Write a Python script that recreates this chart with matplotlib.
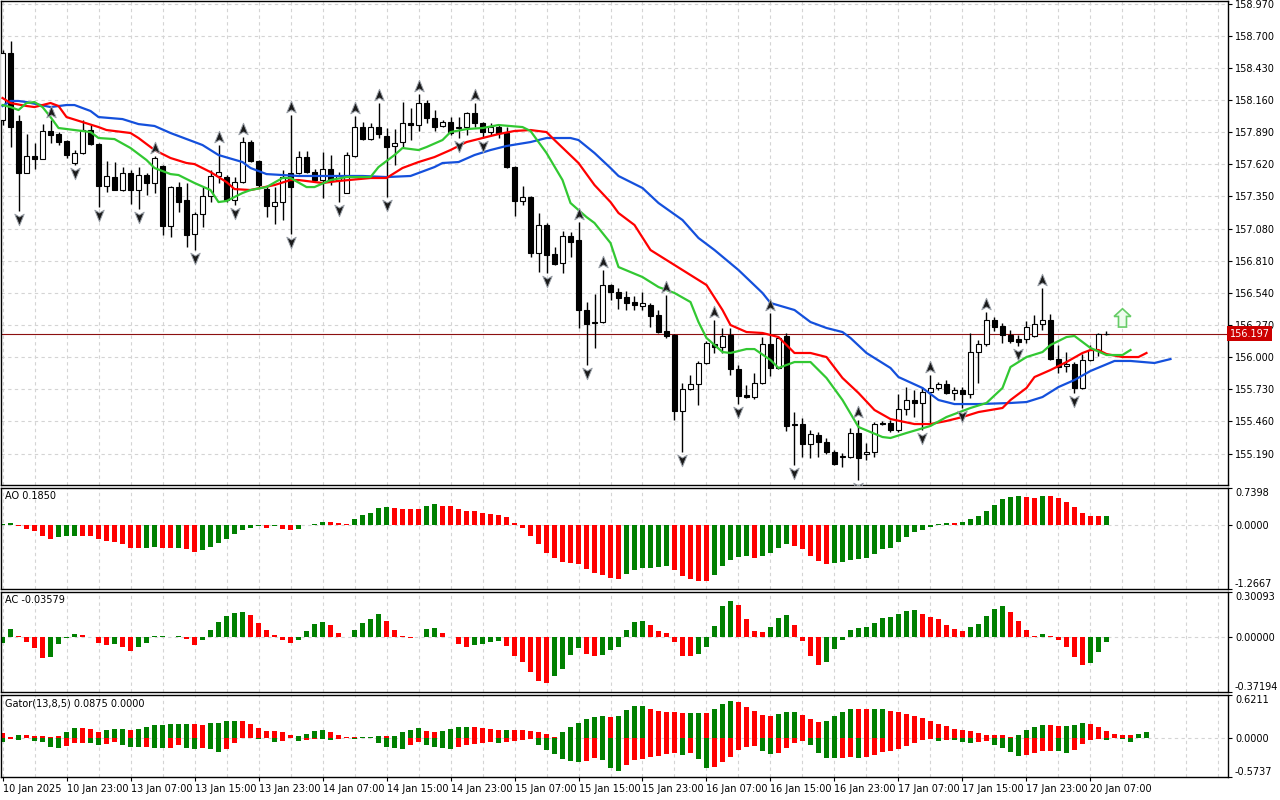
import numpy as np
import matplotlib.pyplot as plt
import matplotlib.transforms as mtransforms
from matplotlib.path import Path
from matplotlib.patches import FancyArrow

# ---- price data (hourly bars) ----
time_labels = ["10 Jan 2025", "10 Jan 23:00", "13 Jan 07:00", "13 Jan 15:00", "13 Jan 23:00",
               "14 Jan 07:00", "14 Jan 15:00", "14 Jan 23:00", "15 Jan 07:00", "15 Jan 15:00",
               "15 Jan 23:00", "16 Jan 07:00", "16 Jan 15:00", "16 Jan 23:00", "17 Jan 07:00",
               "17 Jan 15:00", "17 Jan 23:00", "20 Jan 07:00"]
price_ticks = [158.970, 158.700, 158.430, 158.160, 157.890, 157.620, 157.350, 157.080,
               156.810, 156.540, 156.270, 156.000, 155.730, 155.460, 155.190]

opens = [157.992, 158.555, 157.984, 157.547, 157.69, 157.664, 157.9, 157.874, 157.816, 157.631,
         157.715, 157.908, 157.79, 157.438, 157.513, 157.404, 157.547, 157.404, 157.53, 157.463,
         157.606, 157.102, 157.429, 157.32, 157.034, 157.202, 157.354, 157.522, 157.513, 157.32,
         157.471, 157.807, 157.648, 157.412, 157.27, 157.303, 157.547, 157.547, 157.681, 157.555,
         157.488, 157.58, 157.488, 157.379, 157.69, 157.933, 157.832, 157.933, 157.858, 157.774,
         157.807, 157.967, 157.95, 158.135, 158.009, 157.942, 157.975, 157.925, 157.933, 158.051,
         157.967, 157.891, 157.933, 157.883, 157.597, 157.312, 157.345, 156.875, 157.11, 156.866,
         156.791, 157.018, 156.984, 156.396, 156.287, 156.295, 156.606, 156.547, 156.505, 156.463,
         156.43, 156.438, 156.354, 156.22, 156.186, 155.548, 155.732, 155.774, 155.951, 156.11,
         156.085, 156.186, 155.9, 155.682, 155.665, 155.783, 156.11, 155.909, 156.178, 155.438,
         155.438, 155.27, 155.346, 155.287, 155.203, 155.161, 155.161, 155.363, 155.186, 155.203,
         155.447, 155.447, 155.388, 155.564, 155.64, 155.615, 155.707, 155.741, 155.774, 155.699,
         155.724, 155.69, 156.043, 156.11, 156.312, 156.262, 156.186, 156.152, 156.152, 156.178,
         156.278, 156.312, 155.984, 155.926, 155.942, 155.741, 155.976, 156.06, 156.194]
highs = [158.58, 158.656, 158.034, 157.874, 157.799, 157.958, 157.992, 157.891, 157.824, 157.74,
         157.992, 157.95, 157.799, 157.648, 157.639, 157.597, 157.572, 157.597, 157.547, 157.69,
         157.614, 157.438, 157.471, 157.463, 157.219, 157.429, 157.572, 157.782, 157.53, 157.513,
         157.849, 157.824, 157.656, 157.438, 157.429, 157.572, 158.034, 157.732, 157.732, 157.58,
         157.723, 157.698, 157.555, 157.723, 158.026, 157.975, 157.967, 158.135, 157.925, 157.916,
         158.143, 158.093, 158.21, 158.16, 158.076, 157.992, 158.017, 158.017, 158.059, 158.135,
         157.975, 157.967, 157.95, 157.933, 157.606, 157.438, 157.354, 157.211, 157.127, 156.925,
         157.06, 157.051, 157.135, 156.463, 156.53, 156.732, 156.614, 156.581, 156.556, 156.514,
         156.547, 156.455, 156.396, 156.522, 156.194, 155.783, 155.85, 155.968, 156.136, 156.312,
         156.245, 156.245, 155.934, 155.766, 155.867, 156.169, 156.371, 156.178, 156.203, 155.539,
         155.489, 155.388, 155.371, 155.321, 155.22, 155.195, 155.405, 155.472, 155.279, 155.455,
         155.464, 155.472, 155.69, 155.749, 155.724, 155.749, 155.85, 155.791, 155.808, 155.749,
         155.749, 156.203, 156.144, 156.379, 156.337, 156.287, 156.228, 156.186, 156.304, 156.354,
         156.581, 156.362, 156.102, 156.043, 155.959, 156.026, 156.102, 156.203, 156.22]
lows = [157.95, 157.765, 157.228, 157.547, 157.58, 157.664, 157.799, 157.782, 157.673, 157.614,
        157.706, 157.782, 157.261, 157.387, 157.404, 157.396, 157.286, 157.244, 157.362, 157.379,
        157.026, 157.009, 157.219, 156.925, 156.9, 157.093, 157.303, 157.463, 157.303, 157.278,
        157.463, 157.639, 157.429, 157.177, 157.118, 157.152, 157.034, 157.538, 157.547, 157.471,
        157.337, 157.446, 157.303, 157.379, 157.681, 157.824, 157.824, 157.841, 157.345, 157.614,
        157.757, 157.824, 157.9, 157.967, 157.9, 157.933, 157.866, 157.841, 157.866, 157.933,
        157.841, 157.866, 157.841, 157.589, 157.186, 157.278, 156.841, 156.715, 156.707, 156.774,
        156.707, 156.841, 156.245, 155.934, 156.077, 156.287, 156.48, 156.404, 156.396, 156.396,
        156.396, 156.253, 156.203, 156.161, 155.472, 155.203, 155.724, 155.598, 155.942, 156.035,
        156.035, 155.85, 155.606, 155.657, 155.648, 155.774, 155.842, 155.9, 155.38, 155.094,
        155.161, 155.153, 155.161, 155.186, 155.094, 155.077, 155.153, 154.968, 155.136, 155.161,
        155.43, 155.371, 155.371, 155.514, 155.497, 155.388, 155.43, 155.724, 155.69, 155.64,
        155.573, 155.657, 155.783, 156.094, 156.22, 156.119, 156.119, 156.094, 156.119, 156.169,
        156.228, 155.976, 155.867, 155.875, 155.699, 155.732, 155.968, 156.01, 156.186]
closes = [158.555, 157.933, 157.547, 157.69, 157.664, 157.9, 157.866, 157.807, 157.698, 157.715,
          157.908, 157.79, 157.438, 157.522, 157.404, 157.547, 157.404, 157.53, 157.463, 157.673,
          157.102, 157.429, 157.303, 157.026, 157.202, 157.354, 157.522, 157.555, 157.32, 157.471,
          157.807, 157.648, 157.446, 157.27, 157.303, 157.513, 157.429, 157.681, 157.555, 157.488,
          157.58, 157.488, 157.522, 157.698, 157.933, 157.832, 157.933, 157.874, 157.765, 157.799,
          157.967, 157.95, 158.135, 158.009, 157.933, 157.975, 157.883, 157.933, 158.051, 157.967,
          157.891, 157.933, 157.883, 157.597, 157.312, 157.345, 156.875, 157.11, 156.858, 156.782,
          157.018, 156.967, 156.396, 156.278, 156.295, 156.606, 156.547, 156.497, 156.455, 156.438,
          156.455, 156.346, 156.211, 156.178, 155.548, 155.732, 155.774, 155.951, 156.119, 156.085,
          156.178, 155.9, 155.674, 155.665, 155.783, 156.11, 155.909, 156.161, 155.422, 155.43,
          155.27, 155.354, 155.287, 155.203, 155.102, 155.17, 155.363, 155.153, 155.203, 155.438,
          155.438, 155.388, 155.564, 155.64, 155.615, 155.707, 155.741, 155.774, 155.699, 155.724,
          155.69, 156.043, 156.11, 156.312, 156.253, 156.186, 156.136, 156.127, 156.253, 156.278,
          156.312, 155.984, 155.917, 155.942, 155.741, 155.976, 156.06, 156.194, 156.197]
last_price = 156.197

# ---- Alligator lines (bar index, price) ----
jaw_bars = [0, 1, 2, 3, 6, 8, 9, 11, 12, 15, 17, 19, 21, 25, 27, 30, 31, 33, 35, 37, 41, 45, 48,
            51, 54, 55, 57, 59, 61, 63, 66, 68, 71, 72, 74, 76, 77, 80, 82, 85, 87, 89, 92, 95,
            96, 99, 101, 103, 105, 106, 108, 111, 112, 115, 117, 119, 122, 126, 128, 130, 132,
            134, 136, 139, 141, 144, 146]
jaw_vals = [158.11, 158.152, 158.152, 158.143, 158.101, 158.118, 158.118, 158.068, 158.017, 158.0,
            157.958, 157.942, 157.883, 157.782, 157.698, 157.639, 157.589, 157.538, 157.53, 157.522,
            157.522, 157.522, 157.513, 157.522, 157.597, 157.631, 157.639, 157.698, 157.74, 157.774,
            157.807, 157.841, 157.841, 157.824, 157.715, 157.589, 157.522, 157.421, 157.295, 157.152,
            157.001, 156.9, 156.732, 156.539, 156.455, 156.396, 156.295, 156.245, 156.211, 156.161,
            156.035, 155.909, 155.833, 155.741, 155.64, 155.606, 155.606, 155.615, 155.623, 155.665,
            155.749, 155.808, 155.884, 155.968, 155.968, 155.951, 155.984]
teeth_bars = [0, 1, 3, 4, 6, 7, 8, 10, 12, 13, 16, 17, 19, 21, 23, 24, 26, 28, 29, 31, 34, 36, 37,
              40, 42, 46, 48, 50, 52, 54, 56, 58, 60, 62, 64, 66, 68, 69, 72, 74, 76, 77, 79, 81,
              83, 86, 88, 90, 91, 93, 95, 97, 98, 99, 101, 103, 105, 107, 109, 111, 114, 116, 118,
              120, 122, 125, 126, 128, 129, 131, 133, 135, 136, 137, 138, 140, 142, 143]
teeth_vals = [158.177, 158.135, 158.11, 158.101, 158.135, 158.11, 158.017, 157.975, 157.933, 157.908,
              157.883, 157.841, 157.74, 157.673, 157.631, 157.622, 157.555, 157.471, 157.412, 157.404,
              157.446, 157.488, 157.488, 157.463, 157.48, 157.505, 157.505, 157.589, 157.639, 157.681,
              157.74, 157.807, 157.841, 157.874, 157.9, 157.908, 157.891, 157.824, 157.631, 157.446,
              157.303, 157.211, 157.11, 156.9, 156.816, 156.69, 156.606, 156.396, 156.27, 156.211,
              156.203, 156.169, 156.102, 156.035, 156.035, 156.001, 155.825, 155.699, 155.556, 155.48,
              155.438, 155.438, 155.464, 155.497, 155.539, 155.573, 155.64, 155.741, 155.833, 155.892,
              155.959, 156.035, 156.06, 156.06, 156.026, 156.001, 156.001, 156.035]
lips_bars = [0, 1, 2, 3, 4, 5, 6, 7, 9, 11, 12, 14, 16, 18, 19, 21, 22, 24, 26, 27, 28, 30, 31, 33,
             35, 36, 38, 39, 41, 43, 46, 47, 49, 50, 52, 53, 55, 56, 58, 60, 62, 65, 66, 68, 70, 71,
             73, 74, 76, 77, 80, 82, 84, 86, 87, 88, 90, 91, 93, 94, 96, 97, 99, 101, 103, 105,
             107, 110, 111, 113, 116, 118, 121, 123, 125, 126, 128, 130, 131, 133, 134, 136, 138,
             140, 141]
lips_vals = [158.118, 158.101, 158.076, 158.135, 158.143, 158.101, 158.017, 157.925, 157.908, 157.891,
             157.841, 157.832, 157.757, 157.656, 157.589, 157.538, 157.53, 157.463, 157.404, 157.303,
             157.312, 157.379, 157.404, 157.429, 157.505, 157.505, 157.429, 157.429, 157.488, 157.513,
             157.513, 157.597, 157.698, 157.757, 157.74, 157.765, 157.824, 157.891, 157.916, 157.925,
             157.95, 157.933, 157.9, 157.715, 157.488, 157.295, 157.177, 157.127, 156.959, 156.757,
             156.673, 156.589, 156.539, 156.463, 156.295, 156.161, 156.043, 156.035, 156.068, 156.068,
             155.976, 155.909, 155.959, 155.959, 155.825, 155.64, 155.413, 155.329, 155.321, 155.363,
             155.422, 155.497, 155.573, 155.615, 155.741, 155.917, 156.001, 156.043, 156.102, 156.169,
             156.178, 156.077, 156.018, 156.018, 156.06]

fractal_up_bars = [6, 19, 27, 30, 36, 44, 47, 52, 59, 72, 75, 83, 89, 96, 107, 116, 123, 130]
fractal_down_bars = [2, 9, 12, 17, 24, 29, 36, 42, 48, 57, 60, 68, 73, 85, 92, 99, 107, 115, 120,
                     127, 134]
signal_bar = 140
signal_price = 156.253

# ---- Awesome Oscillator ----
ao_vals = [0.02, 0.046, -0.013, -0.066, -0.113, -0.212, -0.265, -0.225, -0.212, -0.212,
           -0.215, -0.218, -0.265, -0.311, -0.331, -0.364, -0.444, -0.45, -0.444, -0.424,
           -0.444, -0.45, -0.444, -0.464, -0.524, -0.497, -0.424, -0.345, -0.278, -0.179,
           -0.099, -0.046, -0.015, -0.046, -0.013, -0.066, -0.099, -0.08, -0.005, 0.026,
           0.073, 0.066, 0.053, 0.033, 0.133, 0.205, 0.252, 0.345, 0.371, 0.351,
           0.331, 0.328, 0.325, 0.384, 0.424, 0.384, 0.38, 0.318, 0.285, 0.278,
           0.252, 0.219, 0.212, 0.172, 0.053, -0.046, -0.212, -0.378, -0.543, -0.643,
           -0.722, -0.742, -0.762, -0.875, -0.941, -0.981, -1.04, -1.06, -0.961, -0.888,
           -0.85, -0.842, -0.822, -0.815, -0.888, -1.007, -1.06, -1.107, -1.11, -0.987,
           -0.808, -0.689, -0.623, -0.62, -0.643, -0.61, -0.543, -0.444, -0.378, -0.411,
           -0.477, -0.61, -0.709, -0.762, -0.742, -0.74, -0.689, -0.663, -0.643, -0.563,
           -0.477, -0.444, -0.331, -0.232, -0.126, -0.093, -0.026, 0.02, 0.04, 0.035,
           0.073, 0.119, 0.186, 0.285, 0.398, 0.517, 0.563, 0.583, 0.563, 0.543,
           0.583, 0.58, 0.537, 0.47, 0.364, 0.252, 0.186, 0.18, 0.185]
ao_colors = ("GGRRRRRGGGRRRRRRRRGGRRGRRGGGGGGGGRGRRGGGGRRRGGGGGRRRRGG" + "R" * 23 +
             "GGGGGGRRRRRGGGGGRGGGGRRRRRGGGGGGGGGGGGGGGRGGGGGGGGRRGRRRRRRRG")

# ---- Accelerator Oscillator ----
ac_vals = [-0.04, 0.049, 0.008, -0.036, -0.078, -0.144, -0.138, -0.051, -0.011, 0.016,
           0.012, -0.002, -0.044, -0.056, -0.051, -0.069, -0.098, -0.069, -0.04, 0.003,
           0.004, -0.004, 0.004, -0.018, -0.056, -0.022, 0.042, 0.102, 0.142, 0.162,
           0.169, 0.149, 0.089, 0.042, 0.013, -0.024, -0.044, -0.024, 0.036, 0.084,
           0.096, 0.076, 0.022, -0.002, 0.042, 0.089, 0.116, 0.156, 0.109, 0.042,
           0.004, -0.007, -0.005, 0.049, 0.056, 0.022, -0.002, -0.047, -0.067, -0.058,
           -0.051, -0.036, -0.029, -0.062, -0.129, -0.169, -0.236, -0.296, -0.311, -0.267,
           -0.218, -0.122, -0.076, -0.113, -0.129, -0.12, -0.09, -0.069, 0.042, 0.102,
           0.109, 0.076, 0.036, 0.022, -0.036, -0.129, -0.131, -0.113, -0.067, 0.071,
           0.209, 0.242, 0.216, 0.122, 0.036, 0.031, 0.064, 0.129, 0.149, 0.076,
           -0.029, -0.129, -0.191, -0.173, -0.084, -0.022, 0.042, 0.056, 0.064, 0.089,
           0.129, 0.136, 0.153, 0.176, 0.182, 0.156, 0.136, 0.122, 0.082, 0.049,
           0.036, 0.064, 0.084, 0.142, 0.189, 0.209, 0.169, 0.109, 0.042, 0.002,
           0.016, 0.007, -0.022, -0.069, -0.136, -0.191, -0.178, -0.102, -0.036]
ac_colors = ("GGRRRRGGGGRRRRGRRGGGGRGRRGGGGGGRRRRRRGGGGRRRGGGGRRRRGGGRRRRGGGGRRRRRRGGGGRRGGG" +
             "GGGRRRRRRGGGGGRRRRGGGRRRRGGGGGGGGGGGGRRRRRRGGGGGRRRRGRRRRRGGG")

# ---- Gator Oscillator ----
gator_up_vals = [0.073, 0.015, 0.039, 0.039, 0.029, 0.029, 0.01, 0.019, 0.087, 0.146,
                 0.136, 0.121, 0.087, 0.107, 0.121, 0.121, 0.107, 0.131, 0.155, 0.18,
                 0.19, 0.194, 0.204, 0.204, 0.194, 0.19, 0.219, 0.219, 0.238, 0.248,
                 0.248, 0.204, 0.136, 0.102, 0.102, 0.087, 0.044, 0.019, 0.058, 0.102,
                 0.117, 0.087, 0.039, 0.015, 0.01, 0.015, 0.015, 0.029, 0.019, 0.029,
                 0.087, 0.117, 0.146, 0.102, 0.087, 0.102, 0.131, 0.16, 0.16, 0.16,
                 0.146, 0.131, 0.117, 0.117, 0.117, 0.117, 0.102, 0.087, 0.058, 0.015,
                 0.087, 0.16, 0.219, 0.277, 0.306, 0.321, 0.306, 0.321, 0.408, 0.466,
                 0.466, 0.423, 0.394, 0.379, 0.379, 0.364, 0.364, 0.364, 0.364, 0.423,
                 0.496, 0.539, 0.525, 0.452, 0.394, 0.335, 0.321, 0.35, 0.379, 0.379,
                 0.335, 0.277, 0.233, 0.248, 0.321, 0.379, 0.423, 0.423, 0.423, 0.423,
                 0.423, 0.394, 0.379, 0.35, 0.321, 0.292, 0.248, 0.204, 0.175, 0.131,
                 0.117, 0.102, 0.073, 0.044, 0.044, 0.044, 0.015, 0.044, 0.117, 0.16,
                 0.19, 0.19, 0.175, 0.175, 0.19, 0.219, 0.204, 0.16, 0.102, 0.058,
                 0.044, 0.044, 0.058, 0.087]
gator_up_colors = ("RRGRRRRRGGRRRGGGRGGGGGGGRRGGGGRRRRRRRGGGGRRRRGGGRG" +
                   "GGGRRGGGGRRRRGRRRRRRGGGGGGRGGGGRRRRRGGRGGGRRRRRGG" +
                   "GRRRGGGGRRGG" + "R" * 16 + "GGGGRRGGGRRRRRRGG")
gator_dn_vals = [-0.063, -0.015, -0.039, -0.01, -0.053, -0.068, -0.131, -0.155, -0.121, -0.083,
                 -0.073, -0.083, -0.107, -0.097, -0.058, -0.102, -0.141, -0.141, -0.136, -0.146,
                 -0.151, -0.146, -0.107, -0.146, -0.17, -0.146, -0.16, -0.204, -0.17, -0.083,
                 -0.01, -0.005, -0.024, -0.003, -0.063, -0.049, -0.005, -0.049, -0.034, -0.015,
                 -0.024, -0.039, -0.015, -0.01, -0.015, -0.005, -0.005, -0.083, -0.136, -0.146,
                 -0.16, -0.102, -0.058, -0.102, -0.131, -0.146, -0.16, -0.131, -0.102, -0.087,
                 -0.073, -0.07, -0.073, -0.058, -0.044, -0.029, -0.015, -0.102, -0.175, -0.233,
                 -0.306, -0.335, -0.35, -0.335, -0.292, -0.321, -0.437, -0.481, -0.394, -0.321,
                 -0.306, -0.277, -0.262, -0.233, -0.23, -0.248, -0.219, -0.306, -0.437, -0.423,
                 -0.35, -0.277, -0.175, -0.131, -0.128, -0.19, -0.233, -0.219, -0.146, -0.073,
                 -0.044, -0.102, -0.219, -0.292, -0.295, -0.29, -0.277, -0.292, -0.288, -0.248,
                 -0.204, -0.19, -0.16, -0.117, -0.073, -0.029, -0.015, -0.044, -0.029, -0.031,
                 -0.058, -0.073, -0.07, -0.044, -0.102, -0.146, -0.204, -0.262, -0.248, -0.219,
                 -0.19, -0.188, -0.19, -0.219, -0.175, -0.087, -0.029, -0.015, -0.029, -0.01,
                 -0.015, -0.058]
gator_dn_colors = ("GRGRGGGGRRRGGRRGGGRGGRRGGRGGRRRRGRGRRGRRGGRRGRRGGG" +
                   "GRRGGGGRRRRRGRRRRGGGGGGRRGGGRRRRRRRGRGGRRRRRRGGRR" +
                   "RRGGGGRRGRRRRRRRRRGRGGGRRGGGGRRRRGGRRRRGRGG")

GREEN = '#008000'
RED = '#ff0000'
GRID = '#d4d4d4'
W, H = 1280, 800


def colors_of(codes):
    return [GREEN if ch == 'G' else RED for ch in codes]


def box(top, bottom, left=1, right=1228):
    return [left / W, 1 - bottom / H, (right - left) / W, (bottom - top) / H]


fig = plt.figure(figsize=(12.8, 8), dpi=100, facecolor='white')
ax = fig.add_axes(box(1, 485))
ax_ao = fig.add_axes(box(488, 589))
ax_ac = fig.add_axes(box(592, 692))
ax_gt = fig.add_axes(box(695, 777))

xlim = (-0.19, 153.19)
grid_x = np.arange(0, 154, 4)

# ---- main chart ----
ylim = (154.926, 158.992)
ax.vlines(grid_x, *ylim, colors=GRID, linestyles=(0, (3, 3)), lw=0.8, zorder=0)
ax.hlines(price_ticks, *xlim, colors=GRID, linestyles=(0, (3, 3)), lw=0.8, zorder=0)

o, h, l, c = (np.array(v) for v in (opens, highs, lows, closes))
x = np.arange(len(o))
ax.axhline(last_price, color='#8c1010', lw=0.8, zorder=1)
ax.vlines(x, l, h, color='black', lw=1, zorder=2)
ax.bar(x, np.abs(c - o), width=0.62, bottom=np.minimum(o, c),
       color=np.where(c >= o, 'white', 'black'), edgecolor='black', lw=0.8, zorder=3)

ax.plot(jaw_bars, jaw_vals, color='#1450dc', lw=1.6, zorder=4, solid_joinstyle='round')
ax.plot(teeth_bars, teeth_vals, color='#ff0000', lw=1.6, zorder=4, solid_joinstyle='round')
ax.plot(lips_bars, lips_vals, color='#32c832', lw=1.6, zorder=4, solid_joinstyle='round')

up_arrow = Path([(0, 1), (0.75, -0.85), (0, -0.4), (-0.75, -0.85), (0, 1)],
                [Path.MOVETO, Path.LINETO, Path.LINETO, Path.LINETO, Path.CLOSEPOLY])
down_arrow = Path([(vx, -vy) for vx, vy in up_arrow.vertices], up_arrow.codes)
fu = np.array(fractal_up_bars)
fd = np.array(fractal_down_bars)
ax.plot(fu, h[fu] + 0.065, ls='none', marker=up_arrow, ms=9, mfc='#1a1a1a',
        mec='#9aa0a8', mew=0.7, zorder=5)
ax.plot(fd, l[fd] - 0.065, ls='none', marker=down_arrow, ms=9, mfc='#1a1a1a',
        mec='#9aa0a8', mew=0.7, zorder=5)

ax.add_patch(FancyArrow(signal_bar, signal_price, 0, 0.154, width=1.0, head_width=2.1,
                        head_length=0.065, length_includes_head=True,
                        fc='#eefcee', ec='#66cc66', lw=1.2, zorder=6))

ax.set_xlim(*xlim)
ax.set_ylim(*ylim)
ax.yaxis.tick_right()
ax.set_yticks(price_ticks)
ax.set_yticklabels([f"{p:.3f}" for p in price_ticks])
ax.set_xticks([])

trans = mtransforms.blended_transform_factory(ax.transAxes, ax.transData)
ax.text(1.0015, last_price, f"{last_price:.3f}", transform=trans, ha='left', va='center',
        fontsize=7, color='white', zorder=10, clip_on=False,
        bbox=dict(boxstyle='square,pad=0.25', fc='#cc0000', ec='none'))

# ---- indicator panels ----
def setup_panel(a, lo, hi, labels, title):
    a.vlines(grid_x, lo, hi, colors=GRID, linestyles=(0, (3, 3)), lw=0.8, zorder=0)
    a.hlines(0, *xlim, colors=GRID, linestyles=(0, (3, 3)), lw=0.8, zorder=0)
    a.set_xlim(*xlim)
    a.set_ylim(lo, hi)
    a.yaxis.tick_right()
    a.set_yticks([hi, 0, lo])
    a.set_yticklabels(labels)
    tl = a.get_yticklabels()
    tl[0].set_verticalalignment('top')
    tl[2].set_verticalalignment('bottom')
    a.annotate(title, xy=(0, 1), xycoords='axes fraction', xytext=(4, -3),
               textcoords='offset pixels', ha='left', va='top', fontsize=7)


ax_ao.bar(np.arange(len(ao_vals)), ao_vals, width=0.62, color=colors_of(ao_colors), zorder=2)
setup_panel(ax_ao, -1.2667, 0.7398, ['0.7398', '0.0000', '-1.2667'], 'AO 0.1850')

ax_ac.bar(np.arange(len(ac_vals)), ac_vals, width=0.62, color=colors_of(ac_colors), zorder=2)
setup_panel(ax_ac, -0.37194, 0.30093, ['0.30093', '0.00000', '-0.37194'], 'AC -0.03579')

ax_gt.bar(np.arange(len(gator_up_vals)), gator_up_vals, width=0.62,
          color=colors_of(gator_up_colors), zorder=2)
ax_gt.bar(np.arange(len(gator_dn_vals)), gator_dn_vals, width=0.62,
          color=colors_of(gator_dn_colors), zorder=2)
setup_panel(ax_gt, -0.5737, 0.6211, ['0.6211', '0.0000', '-0.5737'],
            'Gator(13,8,5) 0.0875 0.0000')

for a in (ax, ax_ao, ax_ac, ax_gt):
    for s in a.spines.values():
        s.set_color('black')
        s.set_linewidth(1)
    a.tick_params(axis='y', length=3, width=0.8, labelsize=7, pad=2)
for a in (ax_ao, ax_ac):
    a.set_xticks([])

ax_gt.set_xticks(np.arange(0, len(time_labels) * 8, 8))
ax_gt.set_xticklabels(time_labels, ha='left', fontsize=7)
ax_gt.tick_params(axis='x', length=3, width=0.8, pad=2)

fig.savefig('out.png', dpi=100)
